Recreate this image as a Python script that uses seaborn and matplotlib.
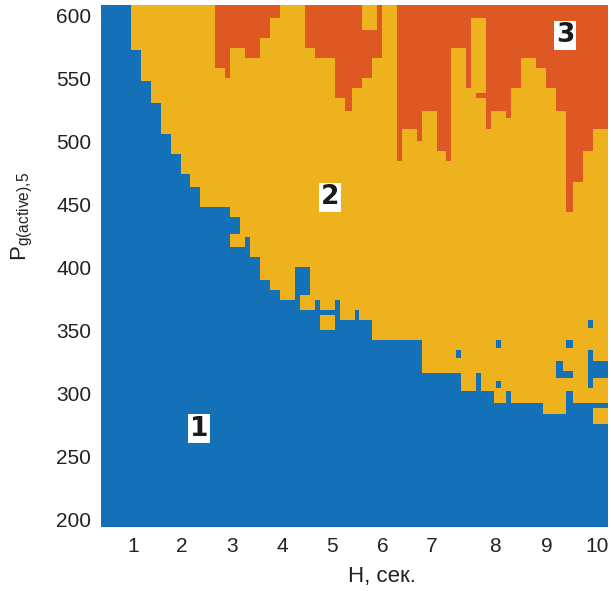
import numpy as np
import pandas as pd
import matplotlib
matplotlib.use("Agg")
import matplotlib.pyplot as plt
import seaborn as sns
from matplotlib.colors import ListedColormap

# ---------------- data ----------------
# boundary between region 1 (blue, below) and region 2 (yellow, above):
# segment left edges in H and lowest P of region 2 in that segment (700 = no region 2)
h_seg12 = [0.35, 0.95, 1.15, 1.35, 1.55, 1.75, 1.95, 2.15, 2.35, 2.95, 3.15, 3.25,
           3.35, 3.55, 3.75, 3.95, 4.25, 4.55, 4.65, 4.75, 5.05, 5.15, 5.45, 5.55,
           5.80, 6.80, 7.62, 7.90, 8.02, 8.23, 8.50, 8.62, 9.23, 9.71, 9.85, 10.25]
p_seg12 = [700, 572, 548, 531, 506, 490, 474, 465, 449, 440, 416, 425,
           408, 391, 383, 375, 400, 367, 375, 367, 375, 359, 367, 359,
           342, 317, 302, 317, 302, 293, 302, 293, 285, 302, 293, 277]

# boundary between region 2 (below) and region 3 (orange, above): lowest P of region 3
h_seg23 = [0.35, 2.65, 2.85, 2.97, 3.25, 3.57, 3.77, 3.97, 4.45, 4.65, 5.07, 5.27,
           5.39, 5.59, 5.80, 6.00, 6.28, 6.40, 6.68, 6.80, 7.08, 7.28, 7.42, 7.70,
           7.82, 8.10, 8.22, 8.50, 8.62, 8.82, 9.10, 9.31, 9.51, 9.71, 9.85, 10.05, 10.25]
p_seg23 = [700, 559, 550, 575, 567, 583, 599, 700, 575, 567, 534, 525,
           542, 550, 567, 700, 485, 510, 501, 525, 493, 485, 575, 542,
           599, 510, 525, 518, 542, 567, 559, 542, 525, 444, 468, 493, 510]

# isolated patches: H from, H to, P from, P to, region
patch_h0 = [2.95, 4.35, 4.75, 7.50, 8.30, 8.30, 9.51, 9.65, 9.71, 10.13, 10.13, 10.25, 10.25, 5.59, 7.90]
patch_h1 = [3.15, 4.65, 5.05, 7.62, 8.42, 8.42, 9.65, 9.85, 9.85, 10.25, 10.25, 10.55, 10.55, 5.88, 8.10]
patch_p0 = [416, 367, 351, 329, 337, 305, 313, 313, 337, 304, 353, 313, 288, 588, 534]
patch_p1 = [427, 378, 362, 334, 342, 310, 326, 318, 342, 334, 359, 326, 293, 610, 539]
patch_cls = [2, 2, 2, 1, 1, 1, 1, 1, 1, 1, 1, 1, 1, 2, 3]

region_text = ["1", "2", "3"]
region_h = [2.32, 4.96, 9.69]
region_p = [272, 455.5, 584]

x_tick_labels = ["1", "2", "3", "4", "5", "6", "7", "8", "9", "10"]
y_tick_values = [200, 250, 300, 350, 400, 450, 500, 550, 600]

colors = ["#1471B7", "#EEB21F", "#DD5822"]

# ---------------- grid ----------------
H_LEFT, H_STEP, N_COLS = 0.35, 0.05, 204
P_TOP, P_STEP, N_ROWS = 608, 2, 207
hc = H_LEFT + H_STEP * (np.arange(N_COLS) + 0.5)
pc = P_TOP - P_STEP * (np.arange(N_ROWS) + 0.5)

i12 = np.searchsorted(h_seg12, hc, side="right") - 1
i23 = np.searchsorted(h_seg23, hc, side="right") - 1
b12 = np.array(p_seg12)[i12]
b23 = np.array(p_seg23)[i23]

PP, HH = np.meshgrid(pc, hc, indexing="ij")
Z = np.full(PP.shape, 2)
Z[PP < b12[None, :]] = 1
Z[PP >= b23[None, :]] = 3
for h0, h1, p0, p1, c in zip(patch_h0, patch_h1, patch_p0, patch_p1, patch_cls):
    m = (HH >= h0) & (HH < h1) & (PP >= p0) & (PP < p1)
    Z[m] = c

df = pd.DataFrame(Z, index=np.round(pc, 1), columns=np.round(hc, 3))

# ---------------- plot ----------------
sns.set_style("white")
plt.rcParams["font.family"] = ["Liberation Sans", "DejaVu Sans"]

fig = plt.figure(figsize=(6.11, 5.91), dpi=100)
ax = fig.add_axes([0.1653, 0.1083, 0.8298, 0.8832])
sns.heatmap(df, cmap=ListedColormap(colors), vmin=0.5, vmax=3.5, cbar=False,
            ax=ax, xticklabels=False, yticklabels=False, rasterized=True)

# x tick label positions as in reference (H units)
x_tick_pos = [1.0, 1.98, 2.99, 3.99, 4.99, 6.02, 7.0, 8.28, 9.31, 10.33]
ax.set_xticks([(h - H_LEFT) / H_STEP for h in x_tick_pos])
ax.set_xticklabels(x_tick_labels, fontsize=15, color="#222222", rotation=0)
ax.set_yticks([(P_TOP - p) / P_STEP for p in y_tick_values])
ax.set_yticklabels([str(v) for v in y_tick_values], fontsize=15, color="#222222", rotation=0)
ax.tick_params(length=0, pad=7)

ax.set_xlabel("H, сек.", fontsize=16, color="#222222")
ax.xaxis.set_label_coords(0.554, -0.075)
ax.set_ylabel(r"$\mathregular{P_{g(active){,}5}}$", fontsize=16, color="#222222")
ax.yaxis.set_label_coords(-0.13, 0.594)

for t, h, p in zip(region_text, region_h, region_p):
    ax.text((h - H_LEFT) / H_STEP, (P_TOP - p) / P_STEP, t, ha="center", va="center",
            fontsize=19, fontweight="bold", family="DejaVu Sans", color="#1a1a1a",
            bbox=dict(boxstyle="square,pad=0.06", fc="white", ec="none"))

for s in ax.spines.values():
    s.set_visible(False)

fig.savefig("out.png", dpi=100)
